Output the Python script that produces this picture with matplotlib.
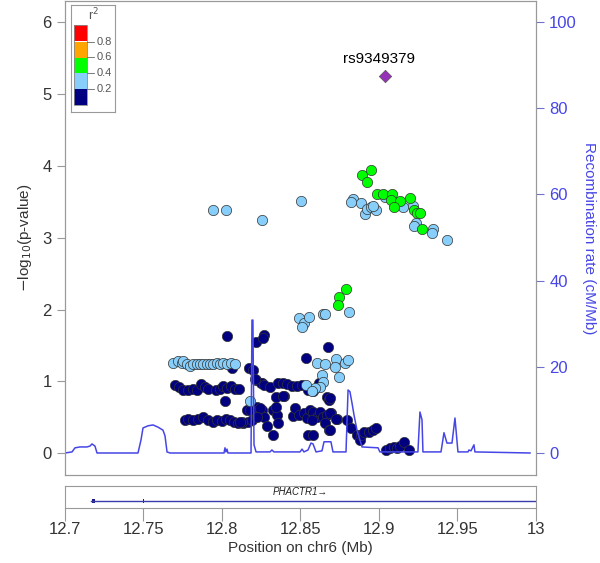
import numpy as np
import matplotlib
matplotlib.use('Agg')
import matplotlib.pyplot as plt
from matplotlib.patches import Rectangle

plt.rcParams['font.family'] = ['Liberation Sans', 'DejaVu Sans']

# lead SNP
lead_name = 'rs9349379'
lead_pos = 12.9038
lead_logp = 5.25

# r2 0.4-0.6
green_pos = [12.8949, 12.8892, 12.8924, 12.8987, 12.9025, 12.9083, 12.9076, 12.9134, 12.9096,
             12.9197, 12.9223, 12.9242, 12.9261, 12.9274, 12.8790, 12.8745, 12.8739]
green_logp = [3.94, 3.87, 3.78, 3.60, 3.61, 3.60, 3.53, 3.51, 3.43,
              3.55, 3.39, 3.34, 3.34, 3.12, 2.29, 2.18, 2.07]

# r2 0.2-0.4
lblue_pos = [12.7943, 12.8025, 12.8255, 12.8503, 12.8834, 12.8822, 12.8885, 12.8911, 12.8924,
             12.8949, 12.8981, 12.8962, 12.9038, 12.9153, 12.9217, 12.9236, 12.9223, 12.9344,
             12.9338, 12.9433,
             12.8490, 12.8522, 12.8510, 12.8554, 12.8643, 12.8656, 12.8809,
             12.8605, 12.8656, 12.8726, 12.8720, 12.8783, 12.8803, 12.8745, 12.8637, 12.8643,
             12.8624, 12.8592, 12.8535, 12.8573, 12.8178,
             12.7688, 12.7720, 12.7745, 12.7752, 12.7777, 12.7796, 12.7815, 12.7841, 12.7860,
             12.7879, 12.7904, 12.7924, 12.7943, 12.7968, 12.7987, 12.8006, 12.8032, 12.8057,
             12.8083]
lblue_logp = [3.39, 3.39, 3.25, 3.51, 3.54, 3.50, 3.48, 3.33, 3.40,
              3.43, 3.39, 3.44, 3.57, 3.43, 3.44, 3.21, 3.16, 3.12,
              3.07, 2.97,
              1.88, 1.82, 1.76, 1.90, 1.94, 1.94, 1.97,
              1.26, 1.24, 1.31, 1.20, 1.26, 1.30, 1.06, 1.09, 0.99,
              0.92, 0.91, 0.95, 0.87, 0.73,
              1.26, 1.28, 1.26, 1.29, 1.24, 1.22, 1.25, 1.24, 1.24,
              1.25, 1.24, 1.25, 1.24, 1.26, 1.24, 1.26, 1.24, 1.26,
              1.25]

# r2 0-0.2
navy_pos = [12.7701, 12.7726, 12.7752, 12.7783, 12.7815, 12.7841, 12.7866, 12.7892, 12.7911,
            12.7962, 12.7987, 12.8006, 12.8032, 12.8057, 12.8083, 12.8108, 12.8019, 12.8032,
            12.8064,
            12.7764, 12.7783, 12.7815, 12.7847, 12.7879, 12.7911, 12.7943, 12.7968, 12.8000,
            12.8025, 12.8051, 12.8076, 12.8102, 12.8134, 12.8166,
            12.8172, 12.8197, 12.8217, 12.8255, 12.8217, 12.8268, 12.8261, 12.8159, 12.8197,
            12.8223, 12.8255, 12.8210, 12.8268, 12.8287, 12.8242, 12.8178, 12.8127, 12.8115,
            12.8191, 12.8223, 12.8325, 12.8350, 12.8357, 12.8325, 12.8344, 12.8395, 12.8452,
            12.8465, 12.8490, 12.8522, 12.8541, 12.8560, 12.8580, 12.8605, 12.8624, 12.8643,
            12.8669, 12.8694, 12.8732, 12.8656, 12.8573, 12.8548, 12.8580, 12.8682,
            12.8248, 12.8268, 12.8306, 12.8344, 12.8357, 12.8389, 12.8414, 12.8446, 12.8478,
            12.8510, 12.8548, 12.8580, 12.8389, 12.8618, 12.8669, 12.8682, 12.8675, 12.8535,
            12.8210,
            12.8688, 12.8688, 12.8688, 12.8726, 12.8796, 12.8822, 12.8860, 12.8879, 12.8885,
            12.8904, 12.8936, 12.8962, 12.8981, 12.9045, 12.9070, 12.9096, 12.9115, 12.9134,
            12.9159, 12.9191]
navy_logp = [0.95, 0.92, 0.88, 0.88, 0.90, 0.88, 0.97, 0.92, 0.90,
             0.88, 0.90, 0.94, 0.91, 0.94, 0.90, 0.90, 0.73, 1.63,
             1.19,
             0.47, 0.48, 0.47, 0.48, 0.51, 0.47, 0.44, 0.47, 0.45,
             0.48, 0.47, 0.44, 0.42, 0.42, 0.44,
             1.19, 1.16, 1.02, 0.98, 1.55, 1.65, 1.61, 0.61, 0.62,
             0.65, 0.61, 0.54, 0.51, 0.38, 0.63, 0.61, 0.44, 0.44,
             0.47, 0.51, 0.61, 0.54, 0.42, 0.26, 0.65, 0.80, 0.52,
             0.63, 0.54, 0.56, 0.49, 0.61, 0.58, 0.51, 0.58, 0.51,
             0.54, 0.56, 0.48, 0.42, 0.47, 0.26, 0.26, 0.33,
             0.98, 0.95, 0.92, 0.79, 0.98, 0.98, 0.97, 0.94, 0.94,
             0.95, 0.88, 0.87, 0.80, 0.98, 0.79, 0.74, 1.48, 1.33,
             1.04,
             0.77, 0.56, 0.33, 0.48, 0.47, 0.35, 0.26, 0.19, 0.26,
             0.30, 0.30, 0.33, 0.35, 0.05, 0.08, 0.09, 0.08, 0.10,
             0.16, 0.05]

# recombination rate (cM/Mb)
recomb_pos = [12.7000, 12.7045, 12.7064, 12.7096, 12.7140, 12.7159, 12.7172, 12.7191, 12.7204,
              12.7465, 12.7484, 12.7497, 12.7529, 12.7561, 12.7592, 12.7624, 12.7637, 12.7650,
              12.7669, 12.8013, 12.8019, 12.8025, 12.8032, 12.8038, 12.8185, 12.8191, 12.8197,
              12.8204, 12.8217, 12.8306, 12.8318, 12.8331, 12.8497, 12.8510, 12.8522, 12.8548,
              12.8567, 12.8580, 12.8599, 12.8637, 12.8650, 12.8694, 12.8707, 12.8790, 12.8803,
              12.8815, 12.8828, 12.8841, 12.8860, 12.8879, 12.8892, 12.8994, 12.9006, 12.9248,
              12.9261, 12.9274, 12.9280, 12.9395, 12.9414, 12.9433, 12.9465, 12.9484, 12.9503,
              12.9567, 12.9573, 12.9586, 12.9605, 12.9611, 12.9962]
recomb_rate = [0.1, 0.35, 1.3, 1.5, 1.5, 1.7, 2.2, 1.7, 0.1,
               0.1, 3.1, 5.9, 6.4, 6.6, 6.1, 5.4, 4.1, 0.35,
               0.1, 0.1, 1.3, 0.35, 1.0, 0.1, 0.1, 30.9, 30.9,
               2.0, 0.35, 0.35, 0.8, 0.35, 0.35, 1.0, 0.35, 0.8,
               2.4, 2.2, 0.35, 0.6, 2.7, 2.7, 0.35, 0.35, 14.7,
               14.3, 11.7, 8.9, 5.4, 3.1, 1.5, 1.3, 0.35, 0.35,
               9.6, 7.8, 0.35, 0.35, 4.8, 2.4, 2.4, 8.2, 0.35,
               0.35, 0.8, 0.6, 2.0, 0.35, 0.1]

gene_name = 'PHACTR1'
gene_start = 12.7165
gene_end = 13.0
exon_starts = [12.7172, 12.7500]
exon_ends = [12.7191, 12.7506]

r2_colors = ['#000080', '#87CEFA', '#00FF00', '#FFA500', '#FF0000']
r2_ticks = ['0.2', '0.4', '0.6', '0.8']

txt = '#333333'
frame = '#999999'
rc = '#4646E6'

fig = plt.figure(figsize=(6, 5.63), dpi=100)
ax = fig.add_axes([0.1083, 0.1563, 0.785, 0.8419])
ax.set_xlim(12.7, 13.0)
ax.set_ylim(-0.30, 6.29)
for s in ax.spines.values():
    s.set_color(frame)
ax.set_yticks(range(7))
ax.tick_params(axis='y', colors=frame, labelcolor=txt, labelsize=12, length=6)
ax.set_xticks([])
ax.set_ylabel(r'$-$log$_{10}$(p-value)', color=txt, fontsize=11, labelpad=6)

kw = dict(s=55, edgecolors='#333333', linewidths=0.5)
ax.scatter(navy_pos, navy_logp, c=r2_colors[0], zorder=3, **kw)
ax.scatter(lblue_pos, lblue_logp, c=r2_colors[1], zorder=4, **kw)
ax.scatter(green_pos, green_logp, c=r2_colors[2], zorder=5, **kw)
ax.scatter([lead_pos], [lead_logp], c='#9632B8', marker='D', s=40,
           edgecolors='#555555', linewidths=0.5, zorder=6)
ax.text(lead_pos - 0.004, lead_logp + 0.13, lead_name, fontsize=11, ha='center',
        va='bottom', color='black')

# recombination line on top of the points
ax2 = ax.twinx()
ax2.set_ylim(-0.30 * 100 / 6, 6.29 * 100 / 6)
ax2.set_yticks([0, 20, 40, 60, 80, 100])
ax2.tick_params(axis='y', colors='#7070D0', labelcolor=rc, labelsize=12, length=6)
for s in ax2.spines.values():
    s.set_color(frame)
ax2.set_ylabel('Recombination rate (cM/Mb)', color=rc, fontsize=11, rotation=270, labelpad=14)
ax2.plot(recomb_pos, recomb_rate, color=rc, lw=1.1)
ax2.patch.set_visible(False)

# r2 legend
lg = fig.add_axes([71 / 600, 1 - 112 / 563, 44 / 600, 107 / 563])
lg.set_xlim(0, 44)
lg.set_ylim(107, 0)
lg.set_xticks([])
lg.set_yticks([])
for s in lg.spines.values():
    s.set_color(frame)
tops = [84, 68, 52, 37, 20]
for i, col in enumerate(r2_colors):
    lg.add_patch(Rectangle((3, tops[i]), 13, 16, facecolor=col, edgecolor='none'))
lg.add_patch(Rectangle((3, 20), 13, 80, facecolor='none', edgecolor='#888888', lw=0.6))
for i, lab in enumerate(r2_ticks):
    yy = tops[i]
    lg.plot([16, 23], [yy, yy], color='#666666', lw=0.6)
    lg.text(25.5, yy, lab, fontsize=8, va='center', ha='left', color='#555555')
lg.text(22, 10, 'r$^2$', fontsize=9, ha='center', va='center', color='#555555')

# gene track
gx = fig.add_axes([0.1083, 0.0977, 0.785, 0.039])
gx.set_xlim(12.7, 13.0)
gx.set_ylim(0, 1)
for s in gx.spines.values():
    s.set_color(frame)
gx.set_yticks([])
gx.set_xticks([12.7, 12.75, 12.8, 12.85, 12.9, 12.95, 13.0])
gx.set_xticklabels(['12.7', '12.75', '12.8', '12.85', '12.9', '12.95', '13'])
gx.tick_params(axis='x', colors=frame, labelcolor=txt, labelsize=12, length=9, pad=1)
gx.set_xlabel('Position on chr6 (Mb)', color=txt, fontsize=11, labelpad=3)
gx.plot([gene_start, gene_end], [0.32, 0.32], color='#3B3BB0', lw=1.0)
for a, b in zip(exon_starts, exon_ends):
    gx.add_patch(Rectangle((a, 0.22), b - a, 0.2, facecolor='#1a1a80', edgecolor='none'))
gx.text(12.850, 0.72, gene_name + '\u2192', fontsize=7, style='italic', ha='center',
        va='center', color='#222222')

fig.savefig('out.png', dpi=100)
